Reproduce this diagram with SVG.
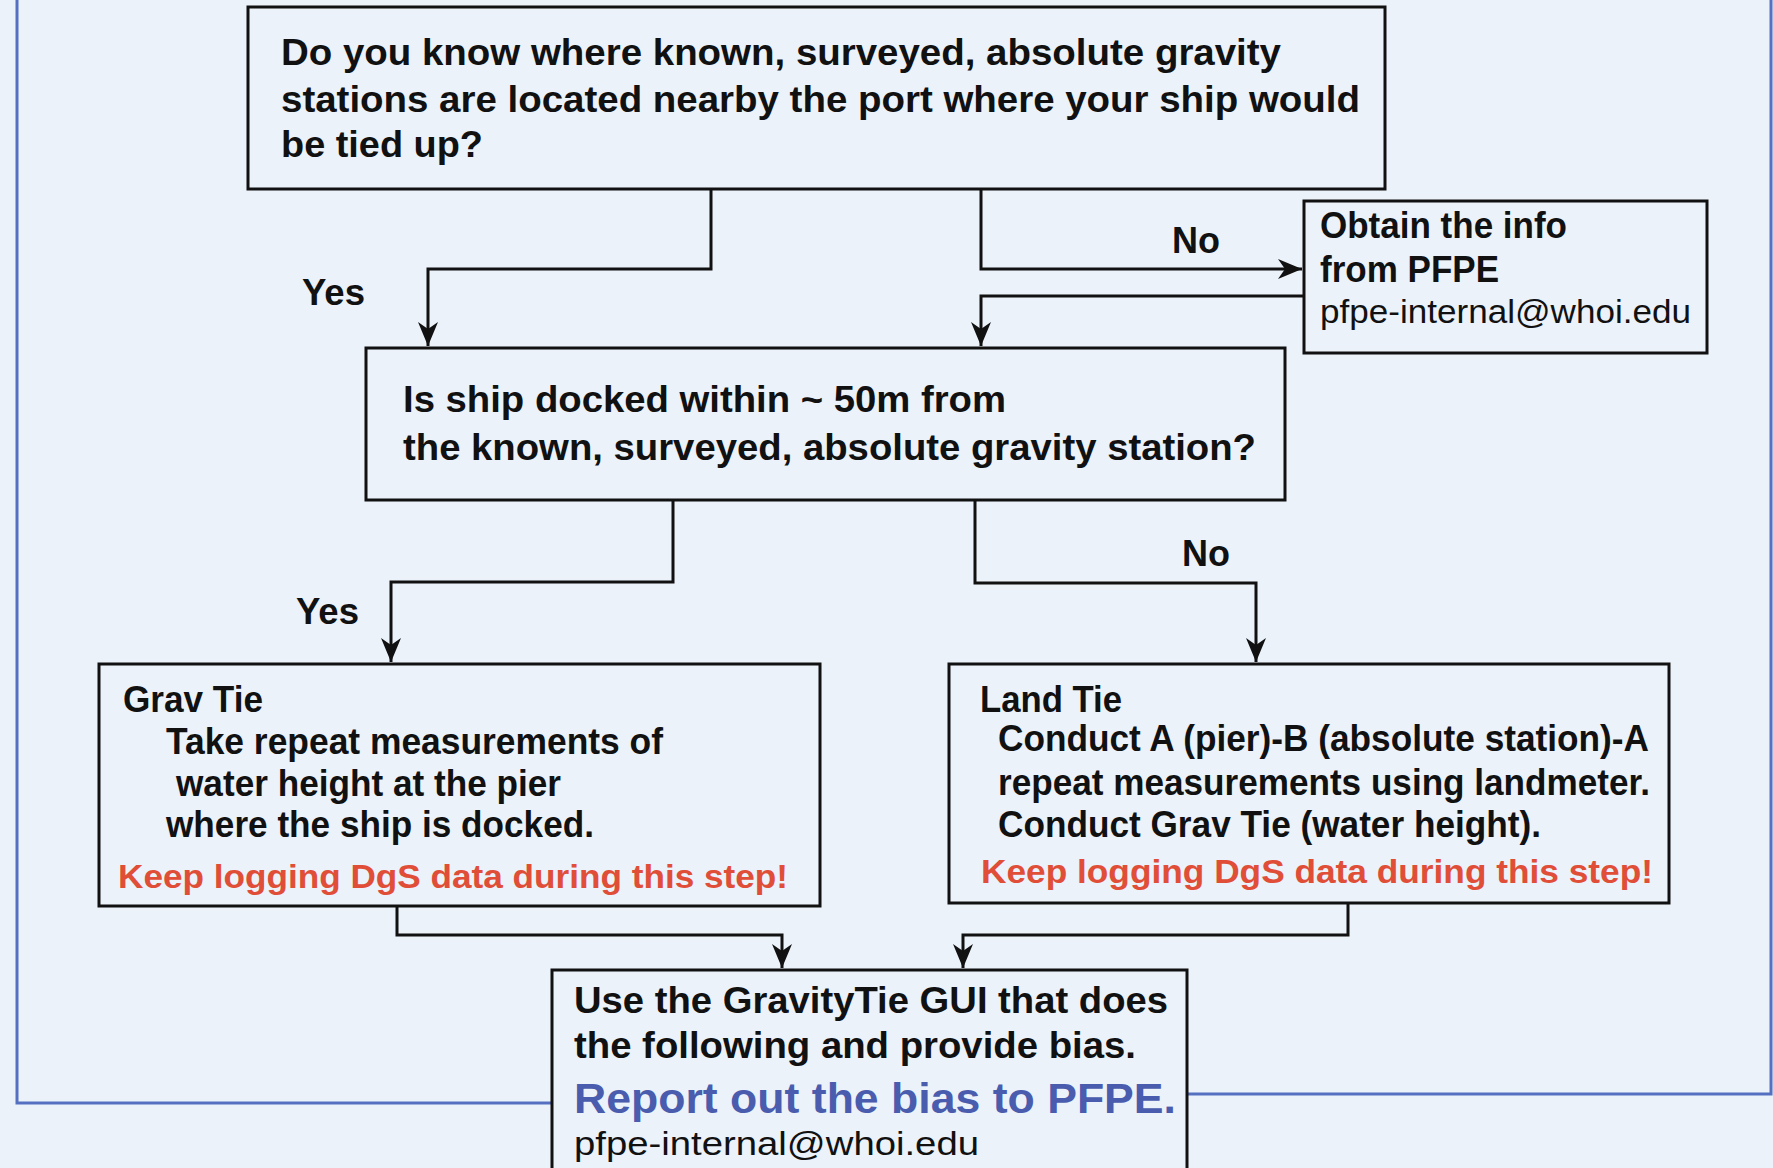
<svg xmlns="http://www.w3.org/2000/svg" width="1773" height="1168" viewBox="0 0 1773 1168">
<defs>
<style>
.box{fill:#ebf2fa;stroke:#111;stroke-width:3}
.t{font-family:"Liberation Sans",Arial,sans-serif;font-weight:bold;font-size:36px;fill:#111}
.r{font-family:"Liberation Sans",Arial,sans-serif;font-weight:bold;font-size:34px;fill:#e04e38}
.m{font-family:"Liberation Sans",Arial,sans-serif;font-weight:normal;font-size:34px;fill:#111}
.b{font-family:"Liberation Sans",Arial,sans-serif;font-weight:bold;font-size:42px;fill:#4a5cad}
.c{fill:none;stroke:#111;stroke-width:3}
.loop{fill:none;stroke:#5570c0;stroke-width:3}
</style>
<marker id="ah" markerUnits="userSpaceOnUse" markerWidth="24" markerHeight="20" refX="24" refY="10" orient="auto">
<path d="M0,0 L24,10 L0,20 L7,10 z" fill="#111"/>
</marker>
</defs>
<rect x="0" y="0" width="1773" height="1168" fill="#ebf2fa"/>

<g id="connectors">
<path class="loop" d="M552,1103 H17 V0"/>
<path class="loop" d="M1187,1094 H1771 V0"/>
<path class="c" d="M711,189 V269 H428 V346" marker-end="url(#ah)"/>
<path class="c" d="M981,189 V269 H1302" marker-end="url(#ah)"/>
<path class="c" d="M1304,296 H981 V346" marker-end="url(#ah)"/>
<path class="c" d="M673,500 V582 H391 V662" marker-end="url(#ah)"/>
<path class="c" d="M975,500 V583 H1256 V662" marker-end="url(#ah)"/>
<path class="c" d="M397,906 V935 H782 V968" marker-end="url(#ah)"/>
<path class="c" d="M1348,903 V935 H963 V968" marker-end="url(#ah)"/>
<text class="t" x="302" y="305" textLength="63" lengthAdjust="spacingAndGlyphs">Yes</text>
<text class="t" x="1172" y="253" textLength="48" lengthAdjust="spacingAndGlyphs">No</text>
<text class="t" x="296" y="624" textLength="63" lengthAdjust="spacingAndGlyphs">Yes</text>
<text class="t" x="1182" y="566" textLength="48" lengthAdjust="spacingAndGlyphs">No</text>
</g>

<g id="q1">
<rect class="box" x="248" y="7" width="1137" height="182"/>
<text class="t" x="281" y="65" textLength="1000" lengthAdjust="spacingAndGlyphs">Do you know where known, surveyed, absolute gravity</text>
<text class="t" x="281" y="112" textLength="1079" lengthAdjust="spacingAndGlyphs">stations are located nearby the port where your ship would</text>
<text class="t" x="281" y="157" textLength="202" lengthAdjust="spacingAndGlyphs">be tied up?</text>
</g>

<g id="obtain">
<rect class="box" x="1304" y="201" width="403" height="152"/>
<text class="t" x="1320" y="238" textLength="247" lengthAdjust="spacingAndGlyphs">Obtain the info</text>
<text class="t" x="1320" y="282" textLength="179" lengthAdjust="spacingAndGlyphs">from PFPE</text>
<text class="m" x="1320" y="323" textLength="371" lengthAdjust="spacingAndGlyphs">pfpe-internal@whoi.edu</text>
</g>

<g id="q2">
<rect class="box" x="366" y="348" width="919" height="152"/>
<text class="t" x="403" y="412" textLength="603" lengthAdjust="spacingAndGlyphs">Is ship docked within ~ 50m from</text>
<text class="t" x="403" y="460" textLength="853" lengthAdjust="spacingAndGlyphs">the known, surveyed, absolute gravity station?</text>
</g>

<g id="gravtie">
<rect class="box" x="99" y="664" width="721" height="242"/>
<text class="t" x="123" y="712" textLength="140" lengthAdjust="spacingAndGlyphs">Grav Tie</text>
<text class="t" x="166" y="754" textLength="497" lengthAdjust="spacingAndGlyphs">Take repeat measurements of</text>
<text class="t" x="176" y="796" textLength="385" lengthAdjust="spacingAndGlyphs">water height at the pier</text>
<text class="t" x="166" y="837" textLength="428" lengthAdjust="spacingAndGlyphs">where the ship is docked.</text>
<text class="r" x="118" y="888" textLength="670" lengthAdjust="spacingAndGlyphs">Keep logging DgS data during this step!</text>
</g>

<g id="landtie">
<rect class="box" x="949" y="664" width="720" height="239"/>
<text class="t" x="980" y="712" textLength="142" lengthAdjust="spacingAndGlyphs">Land Tie</text>
<text class="t" x="998" y="751" textLength="651" lengthAdjust="spacingAndGlyphs">Conduct A (pier)-B (absolute station)-A</text>
<text class="t" x="998" y="795" textLength="652" lengthAdjust="spacingAndGlyphs">repeat measurements using landmeter.</text>
<text class="t" x="998" y="837" textLength="543" lengthAdjust="spacingAndGlyphs">Conduct Grav Tie (water height).</text>
<text class="r" x="981" y="883" textLength="672" lengthAdjust="spacingAndGlyphs">Keep logging DgS data during this step!</text>
</g>

<g id="final">
<rect class="box" x="552" y="970" width="635" height="220"/>
<text class="t" x="574" y="1013" textLength="594" lengthAdjust="spacingAndGlyphs">Use the GravityTie GUI that does</text>
<text class="t" x="574" y="1058" textLength="562" lengthAdjust="spacingAndGlyphs">the following and provide bias.</text>
<text class="b" x="574" y="1113" textLength="602" lengthAdjust="spacingAndGlyphs">Report out the bias to PFPE.</text>
<text class="m" x="574" y="1155" textLength="405" lengthAdjust="spacingAndGlyphs">pfpe-internal@whoi.edu</text>
</g>
</svg>
